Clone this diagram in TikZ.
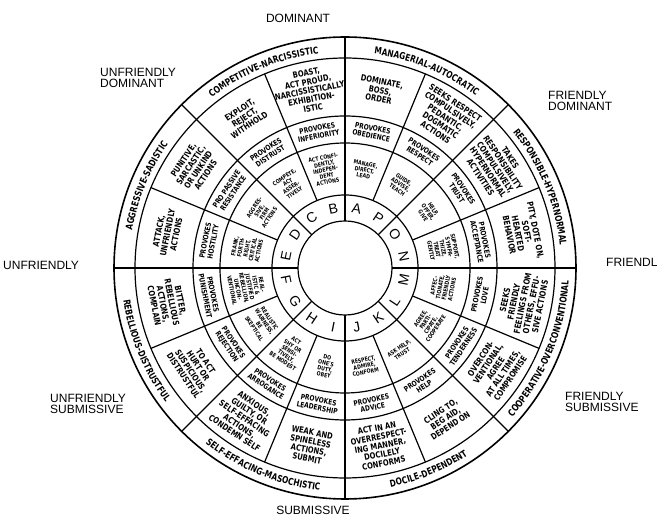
\documentclass[tikz,border=0pt]{standalone}
\usepackage{fontspec}
\setmainfont{Liberation Sans}
\newfontfamily\lettering[FakeStretch=0.8]{DejaVu Sans Bold}
\newfontfamily\namefont[FakeStretch=0.78]{DejaVu Sans Bold}
\usetikzlibrary{decorations.text}

\begin{document}
\begin{tikzpicture}[x=1pt, y=1pt,
  every node/.style = {inner sep=0pt, align=center},
  ring/.style = {line width=1.2pt},
  actbig/.style = {font=\lettering\fontsize{8.5}{8.9}\selectfont},
  provokes/.style = {font=\lettering\fontsize{7.4}{7.9}\selectfont},
  actsmall/.style = {font=\lettering\fontsize{5.8}{6.1}\selectfont},
  letter/.style = {font=\fontsize{14}{14}\selectfont},
  quarter/.style = {font=\fontsize{12}{11.5}\selectfont, align=left},
  namearc/.style = {decorate, decoration={text along path, text align=center}}]
\useasboundingbox (0,0) rectangle (657,525);

% the axes around the wheel
\node[quarter, anchor=south] (dom) at (298,502) {DOMINANT};
\node[quarter, anchor=north] (sub) at (313,19) {SUBMISSIVE};
\node[quarter, anchor=west] (unf) at (3,260) {UNFRIENDLY};
\node[quarter, anchor=west] (fri) at (606,263) {FRIENDLY};
\node[quarter, anchor=west] (unf-dom) at (100,447) {UNFRIENDLY\\DOMINANT};
\node[quarter, anchor=west] (fri-dom) at (548,424) {FRIENDLY\\DOMINANT};
\node[quarter, anchor=west] (unf-sub) at (50,121) {UNFRIENDLY\\SUBMISSIVE};
\node[quarter, anchor=west] (fri-sub) at (565,123) {FRIENDLY\\SUBMISSIVE};

\begin{scope}[shift={(345,257)}]
  % rings and spokes
  \foreach \r in {47,73,125,152,210}
    \draw[ring] (0,0) circle (\r);
  \draw[line width=1.6pt] (0,0) circle (231);
  \foreach \a in {0,45,...,315}
    \draw[ring] (\a:47) -- (\a:231);
  \foreach \a in {22.5,67.5,...,337.5}
    \draw[ring] (\a:73) -- (\a:210);

  % sixteen sectors: letter, inner behaviour, provoked reply, outer behaviour
  \foreach \ang/\ltr/\act/\prv/\inn in {
    78.75/A/{DOMINATE,\\BOSS,\\ORDER}/{PROVOKES\\OBEDIENCE}/{MANAGE,\\DIRECT,\\LEAD},
    101.25/B/{BOAST,\\ACT PROUD,\\NARCISSISTICALLY\\EXHIBITION-\\ISTIC}/{PROVOKES\\INFERIORITY}/{ACT CONFI-\\DENTLY,\\INDEPEN-\\DENT\\ACTIONS},
    123.75/C/{EXPLOIT,\\REJECT,\\WITHHOLD}/{PROVOKES\\DISTRUST}/{COMPETE,\\ACT\\ASSER-\\TIVELY},
    146.25/D/{PUNITIVE,\\SARCASTIC,\\OR UNKIND\\ACTIONS}/{PRO PASSIVE\\RESISTANCE}/{AGGRES-\\SIVE,\\FIRM\\ACTIONS},
    168.75/E/{ATTACK,\\UNFRIENDLY\\ACTIONS}/{PROVOKES\\HOSTILITY}/{FRANK,\\FORTH-\\RIGHT,\\CRITICAL\\ACTIONS},
    191.25/F/{BITTER,\\REBELLIOUS\\ACTIONS,\\COMPLAIN}/{PROVOKES\\PUNISHMENT}/{REAL-\\ISTIC \&\\JUSTIFIED\\REBELLION,\\UNCON-\\VENTIONAL},
    213.75/G/{TO ACT\\HURT OR\\SUSPICIOUS,\\DISTRUSTFUL}/{PROVOKES\\REJECTION}/{REALISTIC\\WARINESS,\\BE\\SKEPTICAL},
    236.25/H/{ANXIOUS,\\GUILTY, OR\\SELF-EFFACING\\ACTIONS,\\CONDEMN SELF}/{PROVOKES\\ARROGANCE}/{ACT\\SHY OR\\SENSI-\\TIVELY,\\BE MODEST},
    258.75/I/{WEAK AND\\SPINELESS\\ACTIONS,\\SUBMIT}/{PROVOKES\\LEADERSHIP}/{DO\\ONE'S\\DUTY,\\OBEY},
    281.25/J/{ACT IN AN\\OVERRESPECT-\\ING MANNER,\\DOCILELY\\CONFORMS}/{PROVOKES\\ADVICE}/{RESPECT,\\ADMIRE,\\CONFORM},
    303.75/K/{CLING TO,\\BEG AID,\\DEPEND ON}/{PROVOKES\\HELP}/{ASK HELP,\\TRUST},
    326.25/L/{OVERCON-\\VENTIONAL,\\AGREE\\AT ALL TIMES,\\COMPROMISE}/{PROVOKES\\TENDERNESS}/{AGREE,\\PARTI-\\CIPATE,\\COOPERATE},
    348.75/M/{SEEKS\\FRIENDLY\\FEELINGS FROM\\OTHERS, EFFU-\\SIVE ACTIONS}/{PROVOKES\\LOVE}/{AFFEC-\\TIONATE,\\FRIENDLY\\ACTIONS},
    11.25/N/{PITY, DOTE ON,\\SOFT-\\HEARTED\\BEHAVIOR}/{PROVOKES\\ACCEPTANCE}/{SUPPORT,\\SYMPA-\\THIZE,\\TREAT\\GENTLY},
    33.75/O/{TAKES\\RESPONSIBILITY\\COMPULSIVELY,\\HYPERNORMAL\\ACTIVITIES}/{PROVOKES\\TRUST}/{HELP,\\OFFER,\\GIVE},
    56.25/P/{SEEKS RESPECT\\COMPULSIVELY,\\PEDANTIC,\\DOGMATIC\\ACTIONS}/{PROVOKES\\RESPECT}/{GUIDE,\\ADVISE,\\TEACH}}
  {
    % upper half reads outward, lower half reads inward
    \pgfmathsetmacro\rot{\ang+90-180*(sin(\ang)>0)}
    \node[letter, rotate=\rot] (ltr-\ltr) at (\ang:60) {\ltr};
    \node[actsmall, rotate=\rot] (inn-\ltr) at (\ang:100) {\inn};
    \node[provokes, rotate=\rot] (prv-\ltr) at (\ang:138.5) {\prv};
    \node[actbig, rotate=\rot] (act-\ltr) at (\ang:181) {\act};
  }

  % type names round the rim
  \path[namearc, decoration={text={|\namefont\fontsize{9.5}{9.5}\selectfont|MANAGERIAL-AUTOCRATIC}}]
    (90:216) arc[start angle=90, end angle=45, radius=216];
  \path[namearc, decoration={text={|\namefont\fontsize{9.5}{9.5}\selectfont|RESPONSIBLE-HYPERNORMAL}}]
    (45:216) arc[start angle=45, end angle=0, radius=216];
  \path[namearc, decoration={text={|\namefont\fontsize{9.5}{9.5}\selectfont|COMPETITIVE-NARCISSISTIC}}]
    (135:216) arc[start angle=135, end angle=90, radius=216];
  \path[namearc, decoration={text={|\namefont\fontsize{9.5}{9.5}\selectfont|AGGRESSIVE-SADISTIC}}]
    (180:216) arc[start angle=180, end angle=135, radius=216];
  \path[namearc, decoration={text={|\namefont\fontsize{9.5}{9.5}\selectfont|REBELLIOUS-DISTRUSTFUL}}]
    (180:224) arc[start angle=180, end angle=225, radius=224];
  \path[namearc, decoration={text={|\namefont\fontsize{9.5}{9.5}\selectfont|SELF-EFFACING-MASOCHISTIC}}]
    (225:224) arc[start angle=225, end angle=270, radius=224];
  \path[namearc, decoration={text={|\namefont\fontsize{9.5}{9.5}\selectfont|DOCILE-DEPENDENT}}]
    (270:224) arc[start angle=270, end angle=315, radius=224];
  \path[namearc, decoration={text={|\namefont\fontsize{9.5}{9.5}\selectfont|COOPERATIVE-OVERCONVENTIONAL}}]
    (315:224) arc[start angle=315, end angle=360, radius=224];
\end{scope}
\end{tikzpicture}
\end{document}
